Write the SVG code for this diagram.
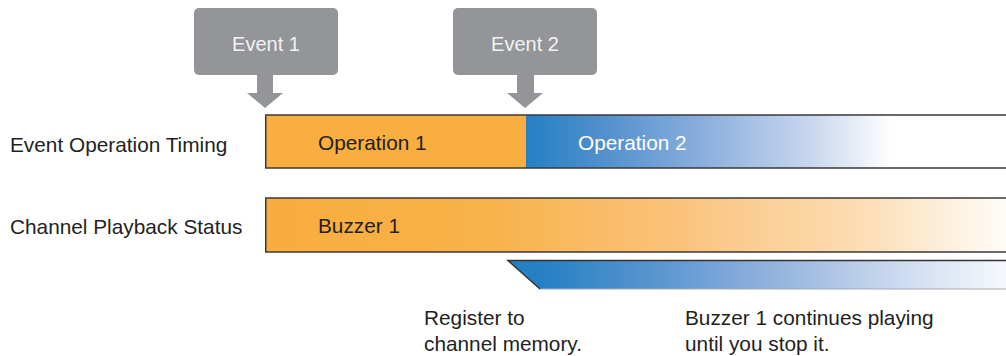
<svg xmlns="http://www.w3.org/2000/svg" width="1006" height="356" viewBox="0 0 1006 356">
  <defs>
    <style>
      .lbl { font-family: "Liberation Sans", Arial, sans-serif; font-size: 20.8px; fill: #231f20; }
      .evt { font-family: "Liberation Sans", Arial, sans-serif; font-size: 20px; fill: #f2f2f2; text-anchor: middle; }
      .evbox { fill: #939598; }
      .arrow { fill: #939598; }
      .bar { stroke: #3a3a3a; stroke-width: 1.5; }
    </style>
    <linearGradient id="gOp2" gradientUnits="userSpaceOnUse" x1="526" y1="0" x2="892" y2="0">
      <stop offset="0" stop-color="#2580c3"/>
      <stop offset="0.2" stop-color="#4f8fcb"/>
      <stop offset="0.5" stop-color="#8eb1de"/>
      <stop offset="0.78" stop-color="#c8d7ee"/>
      <stop offset="1" stop-color="#ffffff"/>
    </linearGradient>
    <linearGradient id="gBuzz" gradientUnits="userSpaceOnUse" x1="266" y1="0" x2="1006" y2="0">
      <stop offset="0" stop-color="#f8ad3d"/>
      <stop offset="0.3" stop-color="#f8b24a"/>
      <stop offset="0.55" stop-color="#fac27a"/>
      <stop offset="0.8" stop-color="#fcdcb3"/>
      <stop offset="1" stop-color="#fffcf8"/>
    </linearGradient>
    <linearGradient id="gReg" gradientUnits="userSpaceOnUse" x1="540" y1="0" x2="1006" y2="0">
      <stop offset="0" stop-color="#2580c3"/>
      <stop offset="0.25" stop-color="#5a95cf"/>
      <stop offset="0.5" stop-color="#93b3de"/>
      <stop offset="0.8" stop-color="#d2dff1"/>
      <stop offset="1" stop-color="#f6f8fc"/>
    </linearGradient>
  </defs>

  <g id="label-timing">
    <text class="lbl" x="10" y="152">Event Operation Timing</text>
  </g>
  <g id="label-status">
    <text class="lbl" x="10" y="234">Channel Playback Status</text>
  </g>

  <g id="event1">
    <rect class="evbox" x="194" y="8" width="144" height="67" rx="5"/>
    <text class="evt" x="266" y="51">Event 1</text>
  </g>
  <g id="event2">
    <rect class="evbox" x="453" y="8" width="144" height="67" rx="5"/>
    <text class="evt" x="525" y="51">Event 2</text>
  </g>

  <g id="connectors">
    <polygon class="arrow" points="257,74 273,74 273,93 283,93 265,108 247,93 257,93"/>
    <polygon class="arrow" points="517,74 534,74 534,93 543,93 525,108 507,93 517,93"/>
  </g>

  <g id="operation-bar">
    <rect x="266" y="115" width="260" height="53" fill="#f9ae40"/>
    <rect x="526" y="115" width="484" height="53" fill="url(#gOp2)"/>
    <path class="bar" fill="none" d="M1010,115 H265.75 V168 H1010"/>
    <text class="lbl" x="318" y="150">Operation 1</text>
    <text class="lbl" x="578" y="150" style="fill:#ffffff">Operation 2</text>
  </g>

  <g id="buzzer-bar">
    <rect x="266" y="198" width="744" height="54" fill="url(#gBuzz)"/>
    <path class="bar" fill="none" d="M1010,198 H265.75 V252 H1010"/>
    <text class="lbl" x="318" y="233">Buzzer 1</text>
  </g>

  <g id="register-bar">
    <polygon points="508,260.5 1010,260.5 1010,289 540,289" fill="url(#gReg)"/>
    <path d="M540,289 H1010" stroke="#a8aab0" stroke-width="1.2" fill="none"/>
    <path d="M540,289 L508,260.5 H1010" stroke="#333333" stroke-width="1.5" fill="none"/>
  </g>

  <g id="note-register">
    <text class="lbl" x="424" y="325">Register to</text>
    <text class="lbl" x="424" y="351">channel memory.</text>
  </g>
  <g id="note-continue">
    <text class="lbl" x="685" y="325">Buzzer 1 continues playing</text>
    <text class="lbl" x="685" y="351">until you stop it.</text>
  </g>
</svg>
